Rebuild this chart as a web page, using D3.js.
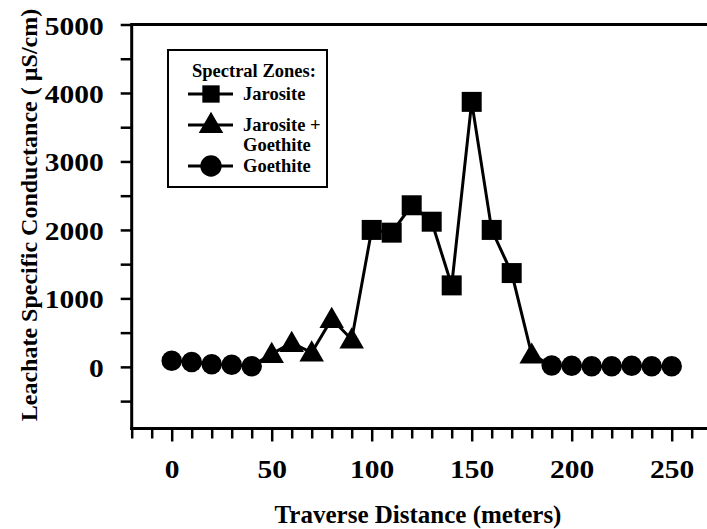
<!DOCTYPE html>
<html>
<head>
<meta charset="utf-8">
<script src="https://cdn.jsdelivr.net/npm/d3@7"></script>
<style>
  html, body { margin: 0; padding: 0; background: #fff; }
  svg { display: block; }
  text { font-family: "Liberation Serif", "Times New Roman", serif; font-weight: bold; fill: #000; }
</style>
</head>
<body>
<svg id="chart" width="707" height="529"></svg>
<script>
// ---- data ----
const distance = [0, 10, 20, 30, 40, 50, 60, 70, 80, 90, 100, 110, 120, 130, 140, 150, 160, 170, 180, 190, 200, 210, 220, 230, 240, 250];
const conductance = [90, 70, 40, 30, 10, 190, 350, 210, 700, 400, 2000, 1960, 2360, 2120, 1190, 3870, 2000, 1370, 180, 20, 15, 10, 10, 15, 10, 10];
const zone = ["G", "G", "G", "G", "G", "JG", "JG", "JG", "JG", "JG", "J", "J", "J", "J", "J", "J", "J", "J", "JG", "G", "G", "G", "G", "G", "G", "G"];
const xTickLabels = [0, 50, 100, 150, 200, 250];
const yTickLabels = [0, 1000, 2000, 3000, 4000, 5000];
const legendKeys = ["J", "JG", "G"];
const legendLabels = [["Jarosite"], ["Jarosite +", "Goethite"], ["Goethite"]];
const legendTitle = "Spectral Zones:";
const xTitle = "Traverse Distance (meters)";
const yTitle = "Leachate Specific Conductance ( \u00B5S/cm)";

const points = distance.map((d, i) => ({ x: d, y: conductance[i], z: zone[i] }));

const svg = d3.select("#chart");

function stretch(sel, k) {
  sel.each(function () {
    const len = this.getComputedTextLength();
    if (len > 0) d3.select(this).attr("textLength", len * k).attr("lengthAdjust", "spacingAndGlyphs");
  });
}

// scales
const x = d3.scaleLinear().domain([-20, 270]).range([131.7, 711.7]);
const y = d3.scaleLinear().domain([-900, 5000]).range([428.5, 24.5]);

const symbolFor = {
  J: d3.symbol().type(d3.symbolSquare).size(400),
  JG: d3.symbol().type(d3.symbolTriangle).size(260),
  G: d3.symbol().type(d3.symbolCircle).size(330)
};
const legendSymbol = {
  J: d3.symbol().type(d3.symbolSquare).size(300),
  JG: d3.symbol().type(d3.symbolTriangle).size(260),
  G: d3.symbol().type(d3.symbolCircle).size(360)
};

// frame: top line
svg.append("line")
  .attr("x1", x(-20)).attr("x2", 710)
  .attr("y1", y(5000)).attr("y2", y(5000))
  .attr("stroke", "#000").attr("stroke-width", 3);

// y axis
const yTicks = d3.range(-500, 5001, 500);
const yAxis = d3.axisLeft(y)
  .tickValues(yTicks)
  .tickSize(11)
  .tickPadding(17)
  .tickFormat(d => yTickLabels.includes(d) ? String(d) : "");
const gy = svg.append("g").attr("transform", `translate(${x(-20)},0)`).call(yAxis);
gy.select(".domain").remove();
gy.selectAll(".tick line").attr("stroke", "#000").attr("stroke-width", 2.5);
gy.selectAll(".tick text").style("font-size", "25px").attr("dy", "0.38em");
stretch(gy.selectAll(".tick text"), 1.18);
svg.append("line")
  .attr("x1", x(-20)).attr("x2", x(-20))
  .attr("y1", y(5000) - 1.5).attr("y2", y(-900) + 1.5)
  .attr("stroke", "#000").attr("stroke-width", 3);

// x axis
const xTicks = d3.range(-20, 261, 10);
const xAxis = d3.axisBottom(x)
  .tickValues(xTicks)
  .tickSize(10)
  .tickPadding(22)
  .tickFormat(d => xTickLabels.includes(d) ? String(d) : "");
const gx = svg.append("g").attr("transform", `translate(0,${y(-900)})`).call(xAxis);
gx.select(".domain").remove();
gx.selectAll(".tick line")
  .attr("stroke", "#000").attr("stroke-width", 2.5)
  .attr("y2", d => (d % 50 === 0 ? 13 : 10));
gx.selectAll(".tick text").style("font-size", "25px").attr("dy", "0.71em");
stretch(gx.selectAll(".tick text"), 1.18);
svg.append("line")
  .attr("x1", x(-20) - 1.5).attr("x2", 710)
  .attr("y1", y(-900)).attr("y2", y(-900))
  .attr("stroke", "#000").attr("stroke-width", 3);

// axis titles
svg.append("text")
  .attr("x", 418).attr("y", 523)
  .attr("text-anchor", "middle")
  .style("font-size", "25px")
  .text(xTitle);
svg.append("text")
  .attr("transform", `translate(37,${215}) rotate(-90)`)
  .attr("text-anchor", "middle")
  .style("font-size", "24px")
  .text(yTitle);

// data line
const line = d3.line().x(d => x(d.x)).y(d => y(d.y));
svg.append("path")
  .datum(points)
  .attr("d", line)
  .attr("fill", "none")
  .attr("stroke", "#000")
  .attr("stroke-width", 3)
  .attr("stroke-linejoin", "miter");

// markers
svg.append("g").selectAll("path")
  .data(points)
  .join("path")
  .attr("transform", d => `translate(${x(d.x)},${y(d.y) + (d.z === "JG" ? 2 : 0)})`)
  .attr("d", d => symbolFor[d.z]())
  .attr("fill", "#000");

// legend
const lg = svg.append("g");
lg.append("rect")
  .attr("x", 168).attr("y", 50)
  .attr("width", 159).attr("height", 137)
  .attr("fill", "#fff").attr("stroke", "#000").attr("stroke-width", 2);
lg.append("text")
  .attr("x", 192).attr("y", 77)
  .style("font-size", "18.5px")
  .text(legendTitle);
const rowY = [94, 125, 166];
legendKeys.forEach((k, i) => {
  const cy = rowY[i];
  lg.append("line")
    .attr("x1", 188).attr("x2", 233)
    .attr("y1", cy).attr("y2", cy)
    .attr("stroke", "#000").attr("stroke-width", 3);
  lg.append("path")
    .attr("transform", `translate(211,${cy + (k === "JG" ? 1 : 0)})`)
    .attr("d", legendSymbol[k]())
    .attr("fill", "#000");
  const t = lg.append("text")
    .attr("x", 243).attr("y", cy + 6)
    .style("font-size", "18.5px");
  legendLabels[i].forEach((s, j) => {
    t.append("tspan").attr("x", 243).attr("dy", j === 0 ? 0 : 20).text(s);
  });
});
</script>
</body>
</html>
